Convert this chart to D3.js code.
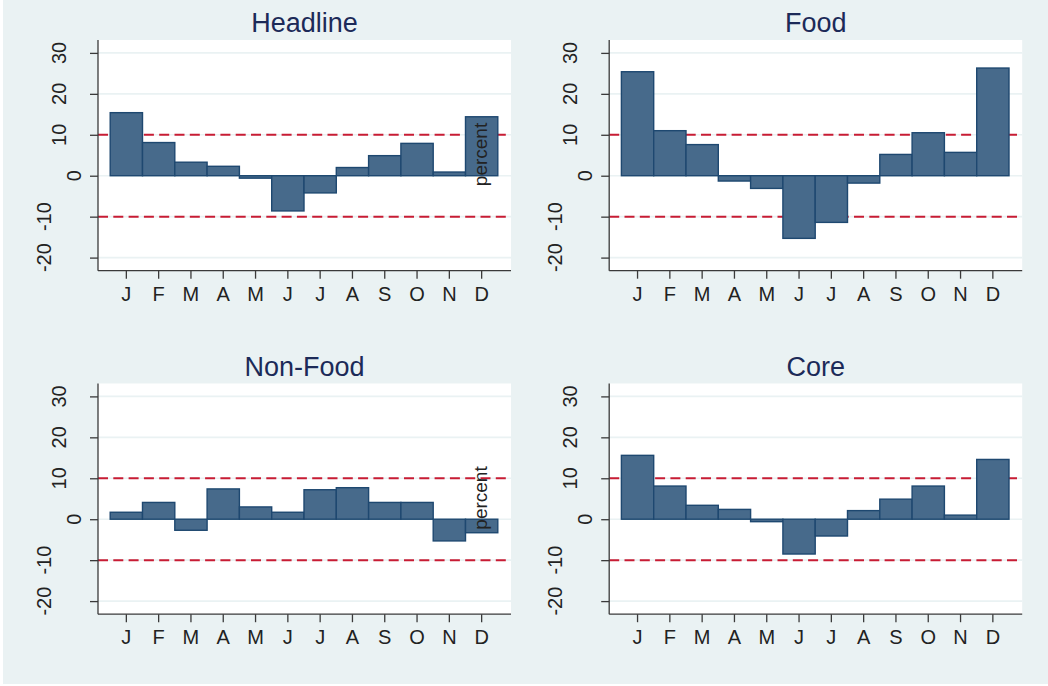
<!DOCTYPE html>
<html>
<head>
<meta charset="utf-8">
<script src="https://cdn.jsdelivr.net/npm/d3@7"></script>
<style>
  html, body { margin: 0; padding: 0; background: #ffffff; }
  svg { display: block; font-family: "Liberation Sans", Arial, Helvetica, sans-serif; }
</style>
</head>
<body>
<svg id="chart" width="1048" height="686"></svg>
<script>
// ---- data ----
const months = ["J","F","M","A","M","J","J","A","S","O","N","D"];
const yTicks = [-20, -10, 0, 10, 20, 30];
const refLines = [-10, 10];
const panelTitles = ["Headline", "Food", "Non-Food", "Core"];
const headline = [15.4, 8.1, 3.3, 2.3, -0.6, -8.6, -4.2, 2.0, 4.9, 7.9, 0.9, 14.4];
const food     = [25.4, 11.0, 7.6, -1.3, -3.1, -15.3, -11.4, -1.8, 5.2, 10.5, 5.7, 26.3];
const nonFood  = [1.7, 4.1, -2.7, 7.4, 3.0, 1.7, 7.2, 7.7, 4.1, 4.1, -5.3, -3.3];
const core     = [15.6, 8.1, 3.4, 2.4, -0.6, -8.5, -4.1, 2.1, 4.9, 8.1, 1.0, 14.6];
const seriesList = [headline, food, nonFood, core];
const showPercent = [true, false, true, false];
const yLabelText = "percent";

// ---- layout ----
const W = 1048, H = 686;
const colX = [98, 609.2];
const rowTop = [40, 383.5];
const plotW = 413, plotH = 230.7;
const barStart = 12.2, barSpan = 387.6;

const bg = "rgb(234,242,243)";
const barFill = "rgb(71,106,139)";
const barStroke = "rgb(30,72,112)";
const redCol = "rgb(200,28,52)";
const axisCol = "#3a3a3a";
const textCol = "#222222";
const titleCol = "rgb(28,42,88)";

const svg = d3.select("#chart");
svg.append("rect").attr("x", 3).attr("y", 0).attr("width", W - 3).attr("height", H - 2).attr("fill", bg);

seriesList.forEach((vals, i) => {
  const col = i % 2, row = Math.floor(i / 2);
  const ax = colX[col], top = rowTop[row];
  const g = svg.append("g");

  const y = d3.scaleLinear().domain([-23.2, 33.15]).range([top + plotH, top]);
  const x = d3.scaleBand().domain(d3.range(months.length))
    .range([ax + barStart, ax + barStart + barSpan]).paddingInner(0).paddingOuter(0);

  // plot region
  g.append("rect").attr("x", ax).attr("y", top).attr("width", plotW).attr("height", plotH).attr("fill", "#ffffff");

  // grid lines
  g.selectAll(".grid").data(yTicks).enter().append("line")
    .attr("x1", ax).attr("x2", ax + plotW)
    .attr("y1", d => y(d)).attr("y2", d => y(d))
    .attr("stroke", bg).attr("stroke-width", 1.6);

  // reference lines
  g.selectAll(".ref").data(refLines).enter().append("line")
    .attr("x1", ax).attr("x2", ax + plotW)
    .attr("y1", d => y(d)).attr("y2", d => y(d))
    .attr("stroke", redCol).attr("stroke-width", 2)
    .attr("stroke-dasharray", "10,5.3");

  // bars
  g.selectAll(".bar").data(vals).enter().append("rect")
    .attr("x", (d, j) => x(j))
    .attr("width", x.bandwidth())
    .attr("y", d => Math.min(y(d), y(0)))
    .attr("height", d => Math.abs(y(d) - y(0)))
    .attr("fill", barFill).attr("stroke", barStroke).attr("stroke-width", 1.4);

  // y axis
  const yAxis = d3.axisLeft(y).tickValues(yTicks).tickSize(8).tickFormat("");
  const ya = g.append("g").attr("transform", `translate(${ax},0)`).call(yAxis);
  ya.select(".domain").attr("stroke", axisCol).attr("stroke-width", 1.3).attr("d", `M0,${top}V${top + plotH}`);
  ya.selectAll(".tick line").attr("stroke", axisCol).attr("stroke-width", 1.3);
  g.selectAll(".ylab").data(yTicks).enter().append("text")
    .attr("transform", d => {
      const n = String(d).length;
      const bx = ax - 17 - 15 * (n - 1);
      return `translate(${bx},${y(d)}) rotate(-90)`;
    })
    .attr("text-anchor", "middle")
    .attr("font-size", 20).attr("fill", textCol)
    .text(d => d);

  // x axis
  const xAxis = d3.axisBottom(x).tickSize(8).tickFormat(j => months[j]);
  const xa = g.append("g").attr("transform", `translate(0,${top + plotH})`).call(xAxis);
  xa.select(".domain").attr("stroke", axisCol).attr("stroke-width", 1.3).attr("d", `M${ax},0H${ax + plotW}`);
  xa.selectAll(".tick line").attr("stroke", axisCol).attr("stroke-width", 1.3);
  xa.selectAll(".tick text").attr("font-size", 20).attr("fill", textCol)
    .attr("font-family", "Liberation Sans, Arial, sans-serif")
    .attr("y", 16).attr("dy", "0.71em");

  // title
  g.append("text").attr("x", ax + plotW / 2).attr("y", top - 7.7)
    .attr("text-anchor", "middle").attr("font-size", 27).attr("fill", titleCol)
    .text(panelTitles[i]);

  // stray y-axis title
  if (showPercent[i]) {
    g.append("text")
      .attr("transform", `translate(${ax + 388.5},${top + 114.5}) rotate(-90)`)
      .attr("text-anchor", "middle").attr("font-size", 19).attr("fill", textCol)
      .text(yLabelText);
  }
});
</script>
</body>
</html>
